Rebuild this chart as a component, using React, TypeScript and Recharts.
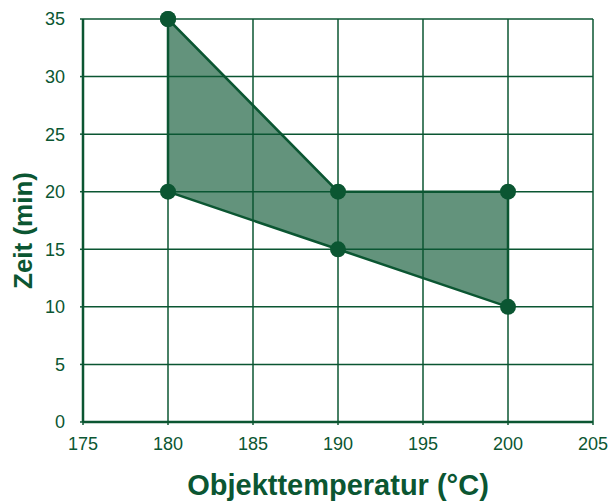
import React from "react";
import {
  ComposedChart,
  Area,
  Line,
  XAxis,
  YAxis,
  CartesianGrid,
  Label,
} from "recharts";

// Zeitfenster je Objekttemperatur (obere/untere Grenze)
const temps = [180, 190, 200];
const zeitMax = [35, 20, 20];
const zeitMin = [20, 15, 10];

// Umriss des Bereichs (Reihenfolge der Eckpunkte)
const outlineTemps = [180, 190, 200, 200, 190, 180, 180];
const outlineZeit = [35, 20, 20, 10, 15, 20, 35];

const xTicks = [175, 180, 185, 190, 195, 200, 205];
const yTicks = [0, 5, 10, 15, 20, 25, 30, 35];

const GREEN = "#0b5632";
const FONT = "'Liberation Sans', Arial, Helvetica, sans-serif";

const bandData = temps.map((t, i) => ({ t, range: [zeitMin[i], zeitMax[i]] }));
const outlineData = outlineTemps.map((t, i) => ({ t, zeit: outlineZeit[i] }));

export default function App() {
  return (
    <div style={{ position: "absolute", left: 0, top: 0, background: "#fff" }}>
      <ComposedChart
        width={610}
        height={501}
        margin={{ top: 19, right: 17, bottom: 0, left: 0 }}
        style={{ fontFamily: FONT }}
      >
        <CartesianGrid stroke={GREEN} strokeWidth={1.5} />
        <XAxis
          type="number"
          dataKey="t"
          domain={[175, 205]}
          ticks={xTicks}
          allowDataOverflow
          height={79}
          tickSize={3}
          tickMargin={12}
          fontSize={18}
          axisLine={{ stroke: GREEN, strokeWidth: 2.5 }}
          tickLine={{ stroke: GREEN, strokeWidth: 1.5 }}
          tick={{ fill: GREEN, fontSize: 18, fontFamily: FONT }}
        >
          <Label
            value="Objekttemperatur (°C)"
            position="insideBottom"
            offset={6}
            fill={GREEN}
            fontSize={29}
            fontWeight="bold"
            fontFamily={FONT}
          />
        </XAxis>
        <YAxis
          type="number"
          domain={[0, 35]}
          ticks={yTicks}
          allowDataOverflow
          width={83}
          tickSize={3}
          tickMargin={15}
          fontSize={18}
          axisLine={{ stroke: GREEN, strokeWidth: 2.5 }}
          tickLine={{ stroke: GREEN, strokeWidth: 1.5 }}
          tick={{ fill: GREEN, fontSize: 18, fontFamily: FONT }}
        >
          <Label
            value="Zeit (min)"
            angle={-90}
            position="center"
            dx={-19}
            dy={10}
            fill={GREEN}
            fontSize={26}
            fontWeight="bold"
            fontFamily={FONT}
          />
        </YAxis>
        <Area
          data={bandData}
          dataKey="range"
          type="linear"
          fill={GREEN}
          fillOpacity={0.64}
          stroke="none"
          isAnimationActive={false}
        />
        <Line
          data={outlineData}
          dataKey="zeit"
          type="linear"
          stroke={GREEN}
          strokeWidth={2.5}
          dot={{ r: 8, fill: GREEN, stroke: GREEN, strokeWidth: 0, clipDot: false }}
          isAnimationActive={false}
        />
      </ComposedChart>
    </div>
  );
}
